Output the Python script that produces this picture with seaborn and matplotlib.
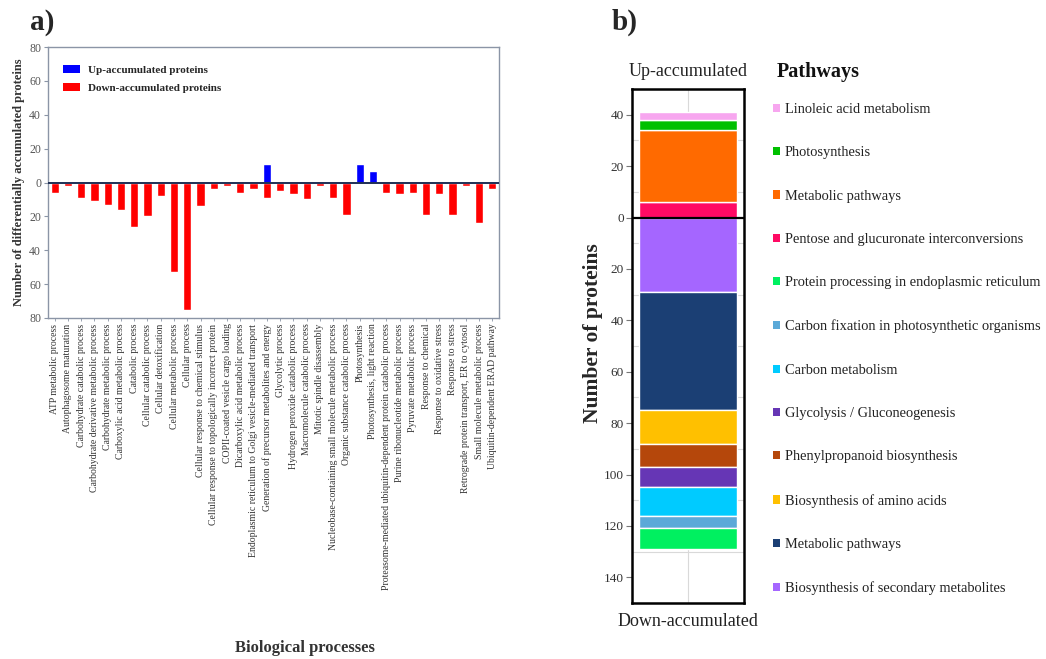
import matplotlib
matplotlib.use("Agg")
import matplotlib.pyplot as plt
import seaborn as sns
import pandas as pd
import numpy as np
from matplotlib.patches import Patch
from matplotlib.ticker import FuncFormatter, MultipleLocator

# ---------------- data: panel a ----------------
processes = [
    "ATP metabolic process",
    "Autophagosome maturation",
    "Carbohydrate catabolic process",
    "Carbohydrate derivative metabolic process",
    "Carbohydrate metabolic process",
    "Carboxylic acid metabolic process",
    "Catabolic process",
    "Cellular catabolic process",
    "Cellular detoxification",
    "Cellular metabolic process",
    "Cellular process",
    "Cellular response to chemical stimulus",
    "Cellular response to topologically incorrect protein",
    "COPII-coated vesicle cargo loading",
    "Dicarboxylic acid metabolic process",
    "Endoplasmic reticulum to Golgi vesicle-mediated transport",
    "Generation of precursor metabolites and energy",
    "Glycolytic process",
    "Hydrogen peroxide catabolic process",
    "Macromolecule catabolic process",
    "Mitotic spindle disassembly",
    "Nucleobase-containing small molecule metabolic process",
    "Organic substance catabolic process",
    "Photosynthesis",
    "Photosynthesis, light reaction",
    "Proteasome-mediated ubiquitin-dependent protein catabolic process",
    "Purine ribonucleotide metabolic process",
    "Pyruvate metabolic process",
    "Response to chemical",
    "Response to oxidative stress",
    "Response to stress",
    "Retrograde protein transport, ER to cytosol",
    "Small molecule metabolic process",
    "Ubiquitin-dependent ERAD pathway",
]
up_counts = [0, 0, 0, 0, 0, 0, 0, 0, 0, 0, 0, 0, 0, 0, 0, 0, 11, 0, 0, 0, 0, 0, 0,
             11, 7, 0, 0, 0, 0, 0, 0, 0, 0, 0]
down_counts = [6, 2, 9, 11, 13, 16, 26, 20, 8, 53, 75, 14, 4, 2, 6, 4, 9, 5, 7, 10, 2,
               9, 19, 0, 0, 6, 7, 6, 19, 7, 19, 2, 24, 4]
series_a = ["Up-accumulated proteins", "Down-accumulated proteins"]
yticks_a = [-80, -60, -40, -20, 0, 20, 40, 60, 80]

# ---------------- data: panel b ----------------
up_pathways = ["Pentose and glucuronate interconversions", "Metabolic pathways",
               "Photosynthesis", "Linoleic acid metabolism"]
up_values = [6, 28, 4, 3]
up_colors = ["#ff0a64", "#ff6a00", "#00c000", "#f7a6ef"]

down_pathways = ["Biosynthesis of secondary metabolites", "Metabolic pathways",
                 "Biosynthesis of amino acids", "Phenylpropanoid biosynthesis",
                 "Glycolysis / Gluconeogenesis", "Carbon metabolism",
                 "Carbon fixation in photosynthetic organisms",
                 "Protein processing in endoplasmic reticulum"]
down_values = [29, 46, 13, 9, 8, 11, 5, 8]
down_colors = ["#a566ff", "#1b3f74", "#ffc000", "#b5470b", "#6636b5", "#00cbff",
               "#5ba9d8", "#00f060"]
yticks_b = [40, 20, 0, -20, -40, -60, -80, -100, -120, -140]

# ---------------- style ----------------
sns.set_theme(style="white")
plt.rcParams["font.family"] = ["Liberation Serif", "DejaVu Serif"]

fig = plt.figure(figsize=(10.46, 6.59), dpi=100)

# ---------------- panel a ----------------
rows = []
for p, u, d in zip(processes, up_counts, down_counts):
    if u:
        rows.append({"process": p, "value": u, "direction": series_a[0]})
    if d:
        rows.append({"process": p, "value": -d, "direction": series_a[1]})
df_a = pd.DataFrame(rows)

ax = fig.add_axes([48 / 1046, 1 - 318 / 659, 451 / 1046, 271 / 659])
sns.barplot(data=df_a, x="process", y="value", hue="direction", order=processes,
            hue_order=series_a, dodge=False, width=0.62, errorbar=None,
            palette={series_a[0]: "#0000ff", series_a[1]: "#ff0000"},
            saturation=1, ax=ax, legend=False)
ax.set_xlim(-0.5, len(processes) - 0.5)
ax.set_ylim(-80, 80)
ax.set_yticks(yticks_a)
ax.yaxis.set_major_formatter(FuncFormatter(lambda v, pos: f"{abs(int(v))}"))
ax.axhline(0, color="#1f2f55", lw=1.4, zorder=3)
for s in ax.spines.values():
    s.set_color("#8b95a6")
    s.set_linewidth(1.0)
ax.tick_params(axis="y", which="both", left=True, length=3, width=0.8, color="#8b95a6",
               labelsize=8.5, labelcolor="#555555", pad=2)
ax.tick_params(axis="x", bottom=True, length=2, width=0.6, color="#8b95a6",
               labelsize=7.0, labelcolor="#333333", pad=2)
ax.set_xticks(range(len(processes)))
ax.set_xticklabels(processes, rotation=90)
ax.set_xlabel("Biological processes", fontsize=12, fontweight="bold", color="#333333")
ax.xaxis.set_label_coords(0.57, -1.19)
ax.set_ylabel("Number of differentially accumulated proteins", fontsize=9,
              fontweight="bold", color="#333333", labelpad=3)
handles_a = [Patch(facecolor="#0000ff", edgecolor="none"),
             Patch(facecolor="#ff0000", edgecolor="none")]
ax.legend(handles_a, series_a, loc="upper left", bbox_to_anchor=(0.02, 0.955),
          frameon=False, prop={"weight": "bold", "size": 8}, handlelength=1.6,
          handleheight=0.7, handletextpad=0.7, labelspacing=0.75, borderpad=0)

fig.text(30 / 1046, 1 - 22 / 659, "a)", fontsize=21, fontweight="bold", va="center")
fig.text(612 / 1046, 1 - 22 / 659, "b)", fontsize=21, fontweight="bold", va="center")

# ---------------- panel b ----------------
axb = fig.add_axes([632 / 1046, 1 - 603 / 659, 112 / 1046, 514 / 659])
cat = ["stack"]
bottom = 0
for name, v, c in zip(up_pathways, up_values, up_colors):
    sns.barplot(x=cat, y=[v], bottom=bottom, color=c, saturation=1, width=0.87,
                errorbar=None, ax=axb, zorder=3)
    bottom += v
bottom = 0
for name, v, c in zip(down_pathways, down_values, down_colors):
    sns.barplot(x=cat, y=[-v], bottom=bottom, color=c, saturation=1, width=0.87,
                errorbar=None, ax=axb, zorder=3)
    bottom -= v
axb.set_xlim(-0.5, 0.5)
axb.set_ylim(-150, 50)
axb.set_yticks(yticks_b)
axb.yaxis.set_major_formatter(FuncFormatter(lambda v, pos: f"{abs(int(v))}"))
axb.yaxis.set_minor_locator(MultipleLocator(20, offset=10))
axb.grid(axis="y", which="minor", color="#d9d9d9", lw=0.8, zorder=0)
axb.axvline(0, color="#d9d9d9", lw=0.8, zorder=0)
axb.axhline(0, color="black", lw=1.6, zorder=4)
axb.set_xticks([])
axb.set_xlabel("")
for s in axb.spines.values():
    s.set_color("black")
    s.set_linewidth(1.8)
axb.tick_params(axis="y", which="major", left=True, length=4, width=0.8, color="#777777",
                labelsize=9.5, labelcolor="#333333", pad=2)
axb.tick_params(axis="y", which="minor", left=False)
axb.set_ylabel("Number of proteins", fontsize=15.5, fontweight="bold")
axb.yaxis.set_label_coords(-0.26, (603 - 333) / 514)
axb.text(0.5, 1.018, "Up-accumulated", transform=axb.transAxes, ha="center",
         va="bottom", fontsize=13, color="#222222")
axb.text(0.5, -0.02, "Down-accumulated", transform=axb.transAxes, ha="center",
         va="top", fontsize=13, color="#222222")

# legend for pathways
leg_names = up_pathways[::-1] + down_pathways[::-1]
leg_colors = up_colors[::-1] + down_colors[::-1]
handles_b = [Patch(facecolor=c, edgecolor="none") for c in leg_colors]
fig.text(777 / 1046, 1 - 72 / 659, "Pathways", fontsize=14.5, fontweight="bold",
         va="center", ha="left", color="#111111")
fig.legend(handles_b, leg_names, loc="upper left",
           bbox_to_anchor=(773 / 1046, 1 - 103 / 659), frameon=False,
           fontsize=10.4, handlelength=0.5, handleheight=0.5, handletextpad=0.3,
           labelspacing=2.10, borderpad=0, borderaxespad=0, labelcolor="#222222")

fig.savefig("out.png", dpi=100)
